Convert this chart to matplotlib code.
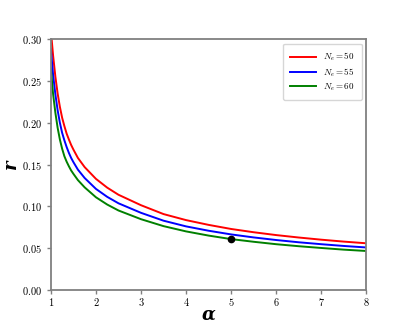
import numpy as np
import matplotlib
matplotlib.use('Agg')
import matplotlib.pyplot as plt
from matplotlib.ticker import FuncFormatter

plt.rcParams['mathtext.fontset'] = 'cm'

# values
alpha = [1.0, 1.05, 1.1, 1.15, 1.2, 1.25, 1.3, 1.35, 1.4, 1.45, 1.5, 1.6, 1.75,
         2.0, 2.25, 2.5, 3.0, 3.5, 4.0, 4.5, 5.0, 5.5, 6.0, 6.5, 7.0, 7.5, 8.0]
r_50 = [0.310, 0.280, 0.255, 0.235, 0.219, 0.206, 0.196, 0.187, 0.180, 0.1735,
        0.168, 0.158, 0.147, 0.133, 0.1225, 0.1140, 0.1015, 0.0909, 0.0837,
        0.0780, 0.0731, 0.0692, 0.0658, 0.0629, 0.0603, 0.0580, 0.0560]
r_55 = [0.288, 0.257, 0.234, 0.215, 0.200, 0.188, 0.179, 0.171, 0.164, 0.158,
        0.153, 0.144, 0.134, 0.121, 0.1115, 0.1038, 0.0924, 0.0830, 0.0762,
        0.0710, 0.0666, 0.0630, 0.0599, 0.0572, 0.0549, 0.0528, 0.0510]
r_60 = [0.265, 0.234, 0.212, 0.194, 0.180, 0.169, 0.160, 0.1535, 0.148, 0.143,
        0.139, 0.1315, 0.1228, 0.111, 0.1023, 0.0952, 0.0848, 0.0765, 0.0702,
        0.0652, 0.0610, 0.0578, 0.0549, 0.0525, 0.0504, 0.0484, 0.0468]
labels = [r'$N_e=50$', r'$N_e=55$', r'$N_e=60$']
point = (5.0, 0.0610)

fig = plt.figure(figsize=(4.07, 3.26), dpi=100)
ax = fig.add_subplot(111)

ax.plot(alpha, r_50, color='red', lw=1.4, label=labels[0])
ax.plot(alpha, r_55, color='blue', lw=1.4, label=labels[1])
ax.plot(alpha, r_60, color='green', lw=1.4, label=labels[2])
ax.plot(point[0], point[1], 'o', color='black', ms=4.5)

ax.set_xlim(1, 8)
ax.set_ylim(0, 0.30)
ax.set_xticks(range(1, 9))
ax.set_yticks(np.arange(0, 0.31, 0.05))
ax.xaxis.set_major_formatter(FuncFormatter(lambda v, p: r'$\mathbf{%d}$' % v))
ax.yaxis.set_major_formatter(FuncFormatter(lambda v, p: r'$\mathbf{%.2f}$' % v))
ax.tick_params(labelsize=7.5, color='#808080', length=3, width=1)
ax.tick_params(axis='x', pad=1.5)
for s in ax.spines.values():
    s.set_color('#808080')
    s.set_linewidth(1.3)

ax.set_xlabel('α', fontsize=13, fontweight='bold', fontstyle='italic',
              family='DejaVu Serif', labelpad=-2)
ax.set_ylabel('r', fontsize=13, fontweight='bold', fontstyle='italic',
              family='DejaVu Serif', labelpad=1)

ax.legend(loc='upper right', fontsize=6.5, handlelength=2.8, borderpad=0.8,
          labelspacing=0.3, borderaxespad=0.5)

plt.savefig('out.png', dpi=100)
